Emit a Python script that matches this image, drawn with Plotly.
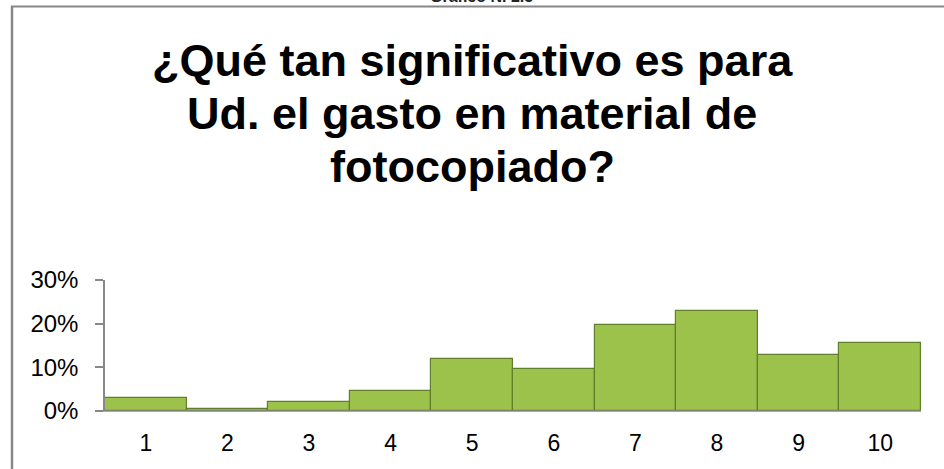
import plotly.graph_objects as go

categories = ["1", "2", "3", "4", "5", "6", "7", "8", "9", "10"]
values = [0.030, 0.005, 0.021, 0.046, 0.119, 0.097, 0.196, 0.228, 0.128, 0.155]
y_ticks = [0, 0.1, 0.2, 0.3]
y_tick_labels = ["0%", "10%", "20%", "30%"]
title_lines = ["¿Qué tan significativo es para", "Ud. el gasto en material de", "fotocopiado?"]
top_caption = "Gráfico N. 2.5"

W, H = 944, 469
L, R, T, B = 105, 23, 280, 58
pw, ph = W - L - R, H - T - B

def px_to_paper_x(px):
    return (px - L) / pw

def px_to_paper_y(py):
    return (H - B - py) / ph

FONT = "Liberation Sans, Arial, sans-serif"
TSIZE = 45

fig = go.Figure()
fig.add_trace(go.Bar(
    x=categories, y=values,
    marker=dict(color="#9cc24c", line=dict(color="#5f7f2a", width=1.2)),
    width=1.0,
    showlegend=False,
    hoverinfo="skip",
))

annotations = []
baselines = [76, 129, 182]
for line, bl in zip(title_lines, baselines):
    annotations.append(dict(
        text="<b>" + line + "</b>", xref="paper", yref="paper",
        x=px_to_paper_x(472), y=px_to_paper_y(bl - 0.3465 * TSIZE),
        xanchor="center", yanchor="middle", showarrow=False,
        font=dict(size=TSIZE, family=FONT, color="black"),
    ))
annotations.append(dict(
    text="<b>" + top_caption + "</b>", xref="paper", yref="paper",
    x=px_to_paper_x(481), y=px_to_paper_y(7.5), xanchor="center", yanchor="bottom",
    showarrow=False, font=dict(size=16, family=FONT, color="#222222"),
))

fig.update_layout(
    width=W, height=H,
    margin=dict(l=L, r=R, t=T, b=B),
    paper_bgcolor="white", plot_bgcolor="white",
    bargap=0,
    font=dict(family=FONT, color="black"),
    xaxis=dict(
        showgrid=False, showline=False, zeroline=False, ticks="",
        tickfont=dict(size=23), range=[-0.5, 9.5], ticklabelstandoff=16,
    ),
    yaxis=dict(
        range=[0, 0.3], tickvals=y_ticks, ticktext=y_tick_labels,
        showgrid=False, zeroline=False, showline=True, linecolor="#888888", linewidth=1.5,
        ticks="outside", ticklen=8, tickcolor="#888888", tickwidth=1.5,
        tickfont=dict(size=24), ticklabelstandoff=12,
    ),
    shapes=[
        dict(type="line", xref="paper", yref="paper", x0=px_to_paper_x(97), x1=1.0, y0=0, y1=0,
             line=dict(color="#888888", width=1.5)),
        dict(type="line", xref="paper", yref="paper", x0=px_to_paper_x(12), x1=px_to_paper_x(12),
             y0=px_to_paper_y(6), y1=px_to_paper_y(480), line=dict(color="#888888", width=2.5)),
        dict(type="line", xref="paper", yref="paper", x0=px_to_paper_x(11), x1=px_to_paper_x(960),
             y0=px_to_paper_y(6.5), y1=px_to_paper_y(6.5), line=dict(color="#888888", width=2)),
    ],
    annotations=annotations,
)

fig.write_html("out.html", config={"displayModeBar": False},
               post_script="document.body.style.margin='0';")
